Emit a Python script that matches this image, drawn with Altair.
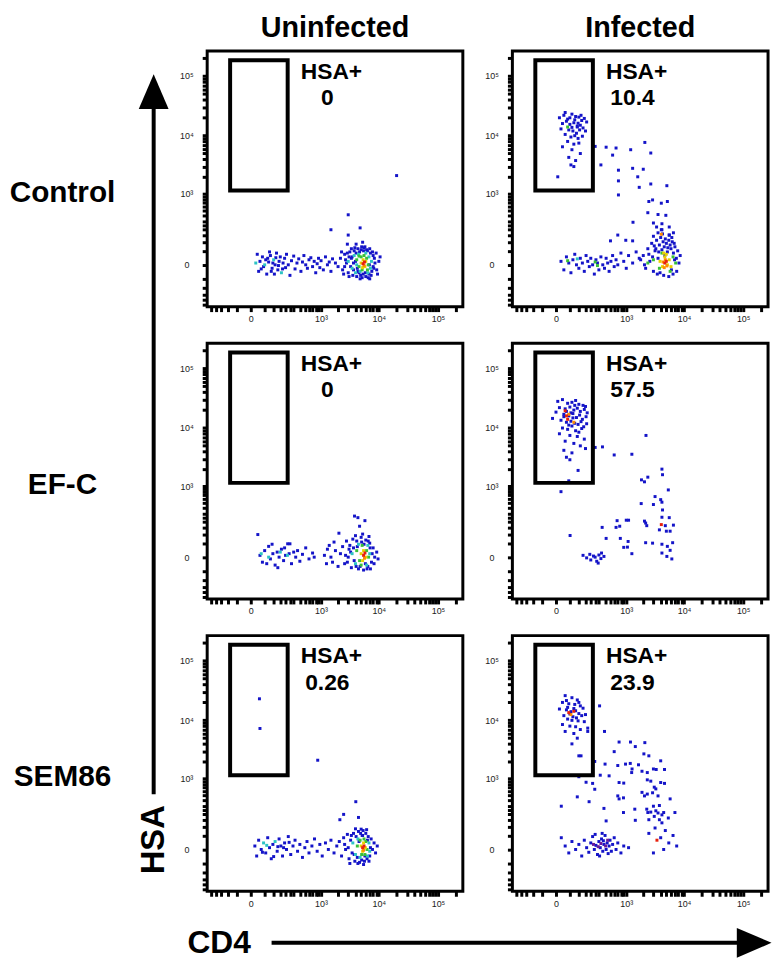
import altair as alt
import pandas as pd

FONT = "Liberation Sans"
W = 258
H = 258

COLUMN_TITLES = ["Uninfected", "Infected"]
ROW_LABELS = ["Control", "EF-C", "SEM86"]
HSA_PCT = ["0", "10.4", "0", "57.5", "0.26", "23.9"]
GATE_CD4 = [-86, 223]
GATE_HSA = [1150, 184000]
X_DOMAIN = [-310, 262144]
Y_DOMAIN = [-280, 262144]
TICK_VALUES = [-250, -200, -150, -100, -50, 0, 50, 100, 150, 200, 250, 300, 400, 500, 600, 700, 800, 900,
               1000, 2000, 3000, 4000, 5000, 6000, 7000, 8000, 9000,
               10000, 20000, 30000, 40000, 50000, 60000, 70000, 80000, 90000,
               100000, 200000]
TICK_LABELS = {0: "0", 1000: "10³", 10000: "10⁴", 100000: "10⁵"}
LEVEL_COLORS = ["#1414c8", "#2ec4c4", "#38c038", "#e6d200", "#ff8c00", "#e8200c", "#6a1b9a"]

# (CD4, HSA, density level)
CONTROL_UNINF = [
    (15, 5, 1), (20, 35, 0), (25, -20, 0), (30, 10, 0), (35, -12, 0), (40, 25, 0), (45, -5, 0), (50, 0, 1),
    (55, 15, 0), (60, -30, 0), (65, 20, 0), (70, 8, 0), (75, 45, 0), (80, 30, 0), (85, -20, 0), (90, -10, 0),
    (95, 5, 0), (100, 15, 1), (105, -30, 0), (110, 0, 0), (115, 22, 0), (120, 40, 0), (130, -15, 0), (135, -2, 0),
    (140, 10, 0), (150, 25, 0), (160, -25, 1), (170, -12, 0), (175, 5, 0), (190, 20, 0), (200, -8, 0), (210, 35, 0),
    (230, 0, 0), (250, -35, 0), (270, 12, 0), (300, 28, 0), (320, -12, 0), (350, 5, 0), (380, 18, 0), (420, -20, 0),
    (450, 8, 0), (480, 30, 0), (520, 0, 0), (560, -10, 0), (600, 15, 0), (650, 22, 0), (700, -5, 0), (750, 10, 0),
    (800, -25, 0), (850, 3, 0), (900, 20, 0), (950, -8, 0), (1000, 12, 0), (1100, -15, 0), (1200, 25, 0), (1300, 0, 0),
    (1400, 8, 0), (1500, -20, 0), (1600, 18, 0), (1800, 5, 0), (2000, -5, 0),
    (2200, 20, 0), (2400, -15, 0), (2600, 35, 0), (2800, 5, 0), (2900, 40, 0), (3000, -25, 0), (3200, 45, 0),
    (3300, -5, 0), (3400, 60, 0), (3500, 25, 0), (3600, -35, 0), (3800, 50, 0), (4000, 10, 0), (4200, -40, 0),
    (4400, 60, 0), (4600, -25, 0), (4800, -50, 0), (5000, 55, 0), (5200, -45, 0), (5600, 65, 0), (5800, 70, 0),
    (6000, -40, 0), (6400, 50, 0), (6800, -30, 0), (7000, -50, 0), (7200, 40, 0), (7600, -20, 0), (8000, 30, 0),
    (8600, 5, 0), (9200, -15, 0), (10000, 10, 0), (10500, 25, 0),
    (2300, 45, 0), (2500, -30, 0), (2700, 15, 0), (3100, -40, 0), (3400, 20, 0), (3700, -15, 0), (3900, 65, 0),
    (4100, 40, 0), (4300, -10, 0), (4700, 45, 0), (4900, -35, 0), (5100, 70, 0), (5400, -30, 0), (5500, 50, 0),
    (5900, -25, 0), (6200, 55, 0), (6600, -45, 0), (7000, 60, 0), (7400, -35, 0), (7800, 45, 0), (8200, -10, 0),
    (8400, 20, 0), (9000, 40, 0), (9500, -30, 0), (2600, -5, 0), (3100, 25, 0), (3700, 5, 0), (4400, -20, 0),
    (6900, 0, 0), (8000, -5, 0),
    (3000, 10, 1), (3500, -10, 1), (3800, 30, 1), (4000, -25, 1), (4200, 0, 1), (4500, 35, 1), (4800, -20, 1),
    (6000, 40, 1), (6500, -25, 1), (6800, 25, 1), (7200, -10, 1), (7500, 10, 1),
    (4200, 15, 2), (4600, -5, 2), (4600, 28, 2), (5000, 25, 2), (5200, -15, 2), (5600, 30, 2), (6200, 20, 2),
    (6400, -15, 2), (6600, 0, 2),
    (5000, 5, 3), (5300, -8, 3), (5400, 15, 3), (5800, -5, 3), (6000, 10, 3),
    (5400, 3, 5), (5600, -2, 4), (5700, 8, 5),
    (20000, 2100, 0), (3000, 410, 0), (1500, 200, 0), (4800, 220, 0), (3000, 150, 0), (5300, 97, 0),
    (2900, 85, 0), (4100, 85, 0),
]

CONTROL_INF = [
    (10, 20000, 0), (25, 22000, 0), (40, 19000, 0), (60, 23000, 0), (80, 21000, 0), (100, 20500, 0), (120, 18000, 0),
    (140, 19500, 0), (160, 17000, 0), (20, 16000, 0), (35, 17500, 0), (50, 15500, 0), (70, 16500, 0), (90, 14500, 0),
    (110, 15000, 0), (130, 13500, 0), (15, 13000, 0), (45, 12500, 0), (65, 12000, 0), (85, 11000, 0), (105, 12500, 0),
    (150, 12000, 0), (30, 10500, 0), (55, 9500, 0), (75, 10000, 0), (95, 9000, 0), (125, 9800, 0), (40, 8000, 0),
    (70, 7200, 0), (100, 7500, 0), (20, 6500, 0), (60, 5800, 0), (110, 5000, 0), (45, 4300, 0), (80, 3800, 0),
    (55, 3200, 0), (70, 3000, 0), (5, 2000, 0), (90, 14000, 0), (50, 20000, 0), (115, 22000, 0), (30, 24500, 0),
    (75, 18500, 0), (60, 13800, 0), (95, 16200, 0), (40, 14000, 2),
    (250, 6600, 0), (420, 6400, 0), (650, 6200, 0), (1200, 5800, 0), (2130, 7700, 0), (2700, 5100, 0), (330, 3200, 0),
    (560, 4700, 0), (720, 2600, 0), (720, 1700, 0), (720, 960, 0), (1300, 2800, 0), (1600, 2000, 0), (2000, 2700, 0),
    (1700, 1310, 0), (2700, 1500, 0), (5100, 1400, 0), (2500, 730, 0), (2900, 780, 0), (4100, 680, 0), (5200, 730, 0),
    (2400, 450, 0), (3600, 415, 0), (4900, 400, 0), (1320, 290, 0), (3000, 280, 0), (4200, 270, 0), (3400, 230, 0),
    (6600, 170, 0), (5600, 230, 0), (700, 150, 0), (980, 110, 0), (1300, 106, 0), (510, 106, 0), (5600, 150, 0),
    (4200, 200, 0),
    (15, 10, 0), (25, -15, 0), (35, 25, 0), (45, 5, 0), (55, -25, 0), (65, 15, 0), (75, 35, 0), (85, 0, 0),
    (100, -10, 0), (110, 20, 0), (125, 5, 0), (140, -20, 0), (155, 30, 0), (170, 10, 0), (185, -5, 0), (200, 20, 0),
    (220, 0, 0), (240, -30, 0), (260, 15, 0), (280, 5, 0), (300, -15, 0), (330, 25, 0), (360, 0, 0), (390, -10, 0),
    (420, 20, 0), (450, 5, 0), (480, -20, 0), (520, 10, 0), (560, 30, 0), (600, -5, 0), (650, 15, 0), (700, 0, 0),
    (800, 40, 0), (900, 10, 0), (1000, -10, 0), (1100, 30, 0), (1300, 5, 0), (1500, 45, 0), (1700, 20, 0),
    (40, 12, 2), (250, 8, 2), (280, -2, 2), (90, 18, 1),
    (2000, 30, 0), (2200, -10, 0), (2400, 60, 0), (2600, 10, 0), (2800, 90, 0), (3000, -20, 0), (3200, 50, 0),
    (3400, 110, 0), (3600, 20, 0), (3800, 80, 0), (4000, 130, 0), (4200, 55, 0), (4400, 100, 0), (4600, 70, 0),
    (4800, 120, 0), (5000, 90, 0), (5200, 45, 0), (5500, 110, 0), (5800, 80, 0), (6000, 60, 0), (6300, 100, 0),
    (6600, 40, 0), (7000, 70, 0), (7400, 20, 0), (7800, 50, 0), (8200, 5, 0), (8600, 30, 0), (3500, -30, 0),
    (4500, -35, 0), (5500, -40, 0), (6500, -30, 0), (7500, -20, 0), (3000, 140, 0), (3600, 170, 0), (4100, 200, 0),
    (3300, 60, 0), (2500, 35, 0), (2100, 0, 0), (1800, 15, 0), (5600, 150, 0), (6200, 130, 0), (6800, 90, 0),
    (4300, 160, 0), (3100, 75, 0), (3700, 45, 0), (4700, 30, 0), (5300, 65, 0), (6100, -15, 0), (6900, 15, 0),
    (2900, 25, 0), (3900, -25, 0),
    (3000, 15, 2), (3800, -10, 2), (6500, 25, 2), (7200, 5, 2), (2400, 5, 2), (5800, -20, 2), (4200, 40, 2),
    (3900, 10, 3), (4300, -5, 3), (4700, 25, 3), (5200, 0, 3), (5600, 15, 3), (6000, -5, 3), (4500, 40, 3),
    (5000, 35, 3),
    (4400, 8, 4), (4800, 15, 4), (5100, -3, 4), (4600, -8, 4), (4100, 157, 4),
    (4700, 5, 5), (5000, 10, 5),
]

EFC_UNINF = [
    (22, 97, 0), (30, 5, 0), (40, -15, 0), (50, 20, 0), (70, 36, 0), (80, -5, 0), (95, 10, 0), (110, -25, 0),
    (125, 15, 0), (140, 0, 0), (160, 25, 0), (180, -10, 0), (200, 5, 0), (223, 47, 0), (250, 47, 0), (270, -20, 0),
    (300, 15, 0), (330, 0, 0), (360, 20, 0), (400, -12, 0), (450, 8, 0), (520, 30, 0), (600, -5, 0), (700, 12, 0),
    (750, 0, 0), (90, 45, 0), (130, -35, 0), (190, 30, 0), (240, 10, 0), (60, -20, 0),
    (35, 10, 1), (70, 0, 1), (220, 5, 1), (150, 15, 1),
    (1150, 5, 0), (1250, -20, 0), (1300, 25, 0), (1400, 40, 0), (1500, 0, 0), (1600, -15, 0), (1700, 55, 0),
    (1800, 20, 0), (2000, -30, 0), (2070, 106, 0), (2200, 10, 0), (2400, 35, 0), (2600, -20, 0), (2800, 60, 0),
    (3000, 0, 0), (3200, 40, 0), (3400, -35, 0), (3600, 70, 0), (3850, 270, 0), (4400, 250, 0), (5800, 215, 0),
    (4700, 160, 0), (4000, 90, 0), (4500, -40, 0), (5000, 80, 0), (5500, -45, 0), (6000, 65, 0), (6500, -30, 0),
    (7000, 50, 0), (7500, -15, 0), (8000, 30, 0), (8500, 0, 0), (9200, 15, 0), (9700, -5, 0), (3800, -10, 0),
    (4200, 60, 0), (6800, 85, 0), (5300, 100, 0), (7200, -40, 0), (3100, 25, 0), (2700, 5, 0),
    (3300, 15, 0), (3700, 30, 0), (4100, -30, 0), (4300, 35, 0), (4800, -30, 0), (5100, 55, 0), (5600, 45, 0),
    (6300, -40, 0), (6600, 60, 0), (7100, 30, 0), (7700, 10, 0), (2900, -15, 0), (8300, -20, 0), (5900, -20, 0),
    (3500, 10, 1), (4000, -20, 1), (4500, 45, 1), (7000, 10, 1), (6200, -25, 1), (6500, 40, 1),
    (4200, 20, 2), (4700, -10, 2), (6200, 20, 2), (6700, 0, 2), (5200, 40, 2), (5000, -25, 2),
    (5000, 10, 3), (5500, 20, 3), (6000, 0, 3), (5300, -10, 3),
    (5500, 5, 5), (5800, 12, 5), (5700, -3, 4),
]

EFC_INF = [
    (5, 28000, 0), (20, 30000, 0), (40, 26000, 0), (60, 27000, 0), (80, 29000, 0), (100, 25000, 0), (130, 24000, 0),
    (150, 23000, 0), (10, 22000, 0), (30, 21000, 0), (50, 22500, 0), (70, 20000, 0), (90, 21500, 0), (110, 19000, 0),
    (140, 20500, 0), (165, 18000, 0), (0, 18500, 0), (25, 17000, 0), (45, 16000, 0), (65, 17500, 0), (85, 15000, 0),
    (105, 16500, 0), (125, 14000, 0), (155, 15500, 0), (-10, 14500, 0), (15, 13500, 0), (35, 12500, 0), (55, 13000, 0),
    (75, 12000, 0), (95, 11500, 0), (115, 12800, 0), (135, 10500, 0), (160, 11800, 0), (20, 10000, 0), (40, 9500, 0),
    (60, 10800, 0), (80, 9000, 0), (100, 8500, 0), (120, 9800, 0), (10, 8000, 0), (50, 7500, 0), (90, 7200, 0),
    (140, 6500, 0), (30, 6000, 0), (70, 5500, 0), (110, 5000, 0), (150, 4500, 0), (25, 4200, 0), (60, 3800, 0),
    (35, 3200, 0), (50, 2900, 0), (95, 1900, 0), (45, 1250, 0), (15, 800, 0), (35, 19000, 0), (55, 18000, 0),
    (75, 24000, 0), (65, 14800, 0), (45, 11200, 0), (25, 15500, 0),
    (30, 19500, 5), (45, 17000, 4), (40, 14000, 5), (70, 12500, 4), (35, 16000, 5),
    (250, 4700, 0), (355, 4800, 0), (600, 3500, 0), (1260, 3600, 0), (2230, 7500, 0), (1860, 1300, 0),
    (2100, 1200, 0), (2400, 1450, 0), (4200, 2000, 0), (4300, 1600, 0), (5400, 860, 0), (3200, 650, 0),
    (1840, 480, 0), (4000, 570, 0), (4200, 510, 0), (3000, 460, 0), (2100, 210, 0), (2300, 165, 0), (4300, 360, 0),
    (4200, 255, 0), (5600, 250, 0), (4800, 165, 0), (4100, 175, 5), (6600, 170, 0), (5000, 120, 0), (5800, 120, 0),
    (3800, 130, 0), (2200, 52, 0), (2900, 50, 0), (4200, 45, 0), (6400, 52, 0), (5200, 36, 0), (5800, 21, 0),
    (4200, 12, 0), (5100, 2, 0), (6200, -5, 0), (1260, 10, 0), (1050, 33, 0), (900, 32, 0), (780, 74, 0),
    (650, 150, 0), (680, 215, 0), (1000, 220, 0), (1100, 220, 0), (350, 150, 0), (420, 74, 0), (51, 91, 0),
    (2200, 190, 0), (760, 160, 0), (1080, 58, 0),
    (130, 5, 0), (160, -2, 0), (190, 8, 0), (200, -8, 0), (230, 3, 0), (250, 0, 0), (270, -12, 0), (290, -18, 0),
    (300, 6, 0), (330, -4, 0), (340, 12, 0), (380, 2, 0),
]

SEM_UNINF = [
    (12, 10, 0), (18, -20, 0), (25, 30, 0), (35, 0, 0), (45, 20, 1), (55, -10, 0), (60, 12, 1), (65, 40, 0),
    (75, 5, 0), (85, -30, 0), (95, 15, 0), (110, 25, 1), (125, -5, 0), (130, 8, 0), (140, 35, 0), (155, 10, 0),
    (170, -20, 0), (190, 20, 0), (210, 0, 0), (230, 45, 0), (240, 22, 0), (260, -15, 0), (290, 10, 0), (320, 30, 0),
    (360, -5, 0), (400, 15, 0), (450, -25, 0), (500, 5, 0), (550, 25, 0), (600, -10, 0), (680, 10, 0), (760, 35, 0),
    (850, -5, 0), (950, 15, 0), (1050, -20, 0), (1200, 20, 0), (1350, 0, 0), (1500, 30, 0), (1700, -10, 0),
    (1900, 10, 0), (40, -8, 0), (100, -22, 0), (180, 5, 0),
    (2100, 25, 0), (2300, -20, 0), (2500, 40, 0), (2700, 0, 0), (2900, 55, 0), (3100, -30, 0), (3300, 30, 0),
    (3500, -10, 0), (3700, 60, 0), (3900, -40, 0), (4100, 45, 0), (4300, -25, 0), (4500, 70, 0), (4700, -45, 0),
    (4900, 60, 0), (5100, -35, 0), (5400, 75, 0), (5700, -40, 0), (6000, 60, 0), (6300, -30, 0), (6600, 45, 0),
    (7000, -20, 0), (7400, 35, 0), (7800, 0, 0), (8300, 20, 0), (8800, -10, 0), (9400, 10, 0), (2600, 15, 0),
    (3000, 5, 0), (3400, 50, 0), (3800, -15, 0), (4600, 25, 0), (5200, 50, 0), (5800, -20, 0), (6400, 30, 0),
    (7200, 5, 0), (3200, -50, 0), (4400, -50, 0), (5500, -55, 0), (6800, -40, 0), (4000, 85, 0), (6200, 80, 0),
    (3600, 20, 1), (4000, -15, 1), (4400, 35, 1), (6400, -20, 1), (6800, 20, 1), (7000, -5, 1), (4800, -25, 1),
    (4300, 10, 2), (4800, 30, 2), (5100, -15, 2), (6000, 25, 2), (6300, 0, 2), (5600, 35, 2), (5800, -15, 2),
    (5000, 10, 3), (5300, -5, 3), (5500, 20, 3), (5900, 5, 3),
    (5300, 5, 5), (5600, 10, 5), (5500, -2, 4),
    (28, 23000, 0), (30, 7300, 0), (870, 2100, 0), (4050, 370, 0), (2500, 200, 0), (2150, 150, 0),
    (4500, 170, 0), (5000, 83, 0), (5300, 50, 0),
]

SEM_INF = [
    (30, 26000, 0), (60, 24000, 0), (90, 22000, 0), (20, 20000, 0), (45, 19000, 0), (75, 18500, 0), (110, 17500, 0),
    (130, 16000, 0), (10, 15500, 0), (35, 15000, 0), (55, 14000, 0), (80, 14500, 0), (100, 13000, 0), (150, 12500, 0),
    (25, 12000, 0), (65, 11500, 0), (85, 11000, 0), (120, 12000, 0), (40, 10500, 0), (60, 10000, 0), (95, 9800, 0),
    (140, 9500, 0), (20, 8500, 0), (50, 8000, 0), (80, 7800, 0), (110, 7000, 0), (30, 6500, 0), (70, 6000, 0),
    (170, 6500, 0), (90, 5000, 0), (60, 4000, 0), (115, 2500, 0), (40, 16500, 0), (70, 15800, 0), (50, 12800, 0),
    (35, 21500, 0), (100, 20000, 0),
    (45, 13500, 5), (55, 12500, 4), (70, 14200, 5),
    (310, 17500, 0), (390, 6500, 0), (170, 7400, 0), (100, 2500, 0), (245, 2000, 0), (400, 1800, 0), (320, 1150, 0),
    (480, 1120, 0), (100, 1080, 0), (155, 860, 0), (220, 820, 0), (245, 640, 0), (183, 370, 0), (90, 460, 0),
    (16, 300, 0), (380, 270, 0),
    (740, 4300, 0), (1190, 4300, 0), (2130, 4200, 0), (600, 2950, 0), (1450, 3600, 0), (2050, 2700, 0),
    (2500, 2500, 0), (4000, 2050, 0), (970, 1800, 0), (1180, 1850, 0), (1650, 1750, 0), (700, 1700, 0),
    (3000, 1480, 0), (3350, 1450, 0), (4650, 1450, 0), (1270, 1480, 0), (1900, 1350, 0), (2350, 1280, 0),
    (1250, 1280, 0), (740, 850, 0), (900, 830, 0), (2350, 950, 0), (2700, 900, 0), (3100, 700, 0), (3300, 650, 0),
    (4000, 850, 0), (2900, 550, 0), (3600, 480, 0), (4650, 820, 0), (1900, 560, 0), (2100, 480, 0), (2350, 520, 0),
    (700, 480, 0), (740, 420, 0), (890, 440, 0), (1420, 260, 0), (2300, 260, 0), (2400, 220, 0), (2700, 225, 0),
    (3000, 300, 0), (3300, 240, 0), (3800, 310, 0), (3600, 215, 0), (4500, 220, 0), (5800, 420, 0), (7000, 220, 0),
    (4200, 195, 0), (3100, 180, 0), (2500, 150, 0), (3800, 150, 0), (5400, 165, 0), (890, 220, 0), (420, 140, 0),
    (1450, 145, 0), (4200, 125, 0),
    (16, 40, 0), (30, 10, 0), (45, -10, 0), (60, 25, 0), (80, 0, 0), (100, 15, 0), (120, -20, 0), (140, 30, 0),
    (160, 5, 0), (180, -8, 0), (200, 20, 0), (220, 45, 0), (240, 0, 0), (260, 12, 0), (280, -15, 0), (300, 25, 0),
    (320, 5, 0), (340, 35, 0), (360, -5, 0), (380, 15, 0), (400, 50, 0), (420, 0, 0), (440, 20, 0), (460, -12, 0),
    (480, 10, 0), (500, 30, 0), (530, -5, 0), (560, 15, 0), (600, 40, 0), (650, 0, 0), (700, 20, 0), (800, -10, 0),
    (900, 10, 0), (1100, 5, 0), (250, 55, 0), (350, 60, 0), (370, 28, 0), (310, -20, 0),
    (290, 8, 6), (330, 18, 6), (410, 10, 6), (450, 30, 6), (230, 15, 6),
    (3450, 30, 5), (2500, 60, 0), (3200, 90, 0), (4000, 40, 0), (4800, 75, 0), (5500, 20, 0), (6500, 50, 0),
    (7500, 10, 0), (3000, -10, 0), (4500, 0, 0),
]

PANELS = [CONTROL_UNINF, CONTROL_INF, EFC_UNINF, EFC_INF, SEM_UNINF, SEM_INF]

LABEL_EXPR = " : ".join(
    [f"datum.value === {v} ? '{t}'" for v, t in TICK_LABELS.items()]
) + " : ''"

x_scale = alt.Scale(type="symlog", constant=70, domain=X_DOMAIN, nice=False, zero=False)
y_scale = alt.Scale(type="symlog", constant=70, domain=Y_DOMAIN, nice=False, zero=False)
x_axis = alt.Axis(values=TICK_VALUES, labelExpr=LABEL_EXPR, title=None, labelOverlap=False,
                  labelFlush=False, labelPadding=3)
y_axis = alt.Axis(values=TICK_VALUES, labelExpr=LABEL_EXPR, title=None, labelOverlap=False,
                  labelFlush=False, labelAlign="center", labelPadding=16)


def one(text):
    return pd.DataFrame({"t": [text]})


def label(text, x, y, size, align="center", baseline="middle", angle=0):
    kw = dict(font=FONT, fontSize=size, fontWeight="bold", color="black", align=align, baseline=baseline)
    if angle:
        kw["angle"] = angle
    return alt.Chart(one(text)).mark_text(**kw).encode(x=alt.value(x), y=alt.value(y), text="t:N")


def arrow_head(x, y, shape):
    return alt.Chart(one("")).mark_point(shape=shape, size=1225, filled=True, color="black",
                                         opacity=1, strokeWidth=0).encode(x=alt.value(x), y=alt.value(y))


def make_panel(i):
    r, c = divmod(i, 2)
    pts = pd.DataFrame(PANELS[i], columns=["cd4", "hsa", "lvl"]).sort_values("lvl", kind="stable")
    dots = alt.Chart(pts).mark_square(size=9, opacity=1).encode(
        x=alt.X("cd4:Q", scale=x_scale, axis=x_axis),
        y=alt.Y("hsa:Q", scale=y_scale, axis=y_axis),
        color=alt.Color("lvl:N", scale=alt.Scale(domain=list(range(len(LEVEL_COLORS))), range=LEVEL_COLORS),
                        legend=None),
    )
    gate_df = pd.DataFrame({"x1": [GATE_CD4[0]], "x2": [GATE_CD4[1]], "y1": [GATE_HSA[0]], "y2": [GATE_HSA[1]]})
    gate = alt.Chart(gate_df).mark_rect(filled=False, stroke="black", strokeWidth=4).encode(
        x=alt.X("x1:Q", scale=x_scale, axis=x_axis), x2="x2:Q",
        y=alt.Y("y1:Q", scale=y_scale, axis=y_axis), y2="y2:Q",
    )
    layers = [dots, gate,
              label("HSA+", 0.366 * W, 0.081 * H, 23, align="left"),
              label(HSA_PCT[i], 0.47 * W, 0.184 * H, 23)]
    if r == 0:
        layers.append(label(COLUMN_TITLES[c], W / 2, -14, 29, baseline="alphabetic"))
    if c == 0:
        layers.append(label(ROW_LABELS[r], -146, 0.555 * H, 30))
    if i == 4:
        # HSA axis arrow (vertical)
        layers.append(alt.Chart(one("")).mark_rule(color="black", strokeWidth=4).encode(
            x=alt.value(-54), y=alt.value(-549), y2=alt.value(160)))
        layers.append(arrow_head(-54, -549, "M0,-1L0.86,1L-0.86,1Z"))
        layers.append(label("HSA", -54, 206, 33, angle=270))
        # CD4 axis arrow (horizontal)
        layers.append(alt.Chart(one("")).mark_rule(color="black", strokeWidth=4).encode(
            x=alt.value(65), x2=alt.value(552), y=alt.value(310)))
        layers.append(arrow_head(552, 310, "M1,0L-1,-0.86L-1,0.86Z"))
        layers.append(label("CD4", 12, 310, 32))
    return alt.layer(*layers).properties(width=W, height=H)


chart = alt.concat(
    *[make_panel(i) for i in range(6)],
    columns=2,
    spacing={"row": 37, "column": 50},
    bounds="flush",
    padding={"left": 0, "top": 0, "right": 0, "bottom": 0},
).configure_view(
    stroke="black", strokeWidth=3
).configure_axis(
    domain=False, grid=False, ticks=True, tickColor="black", tickWidth=3, tickSize=5,
    labelFont=FONT, labelFontSize=9, labelColor="#222222"
)

chart.save("out.html", embed_options={"renderer": "svg", "actions": False})
